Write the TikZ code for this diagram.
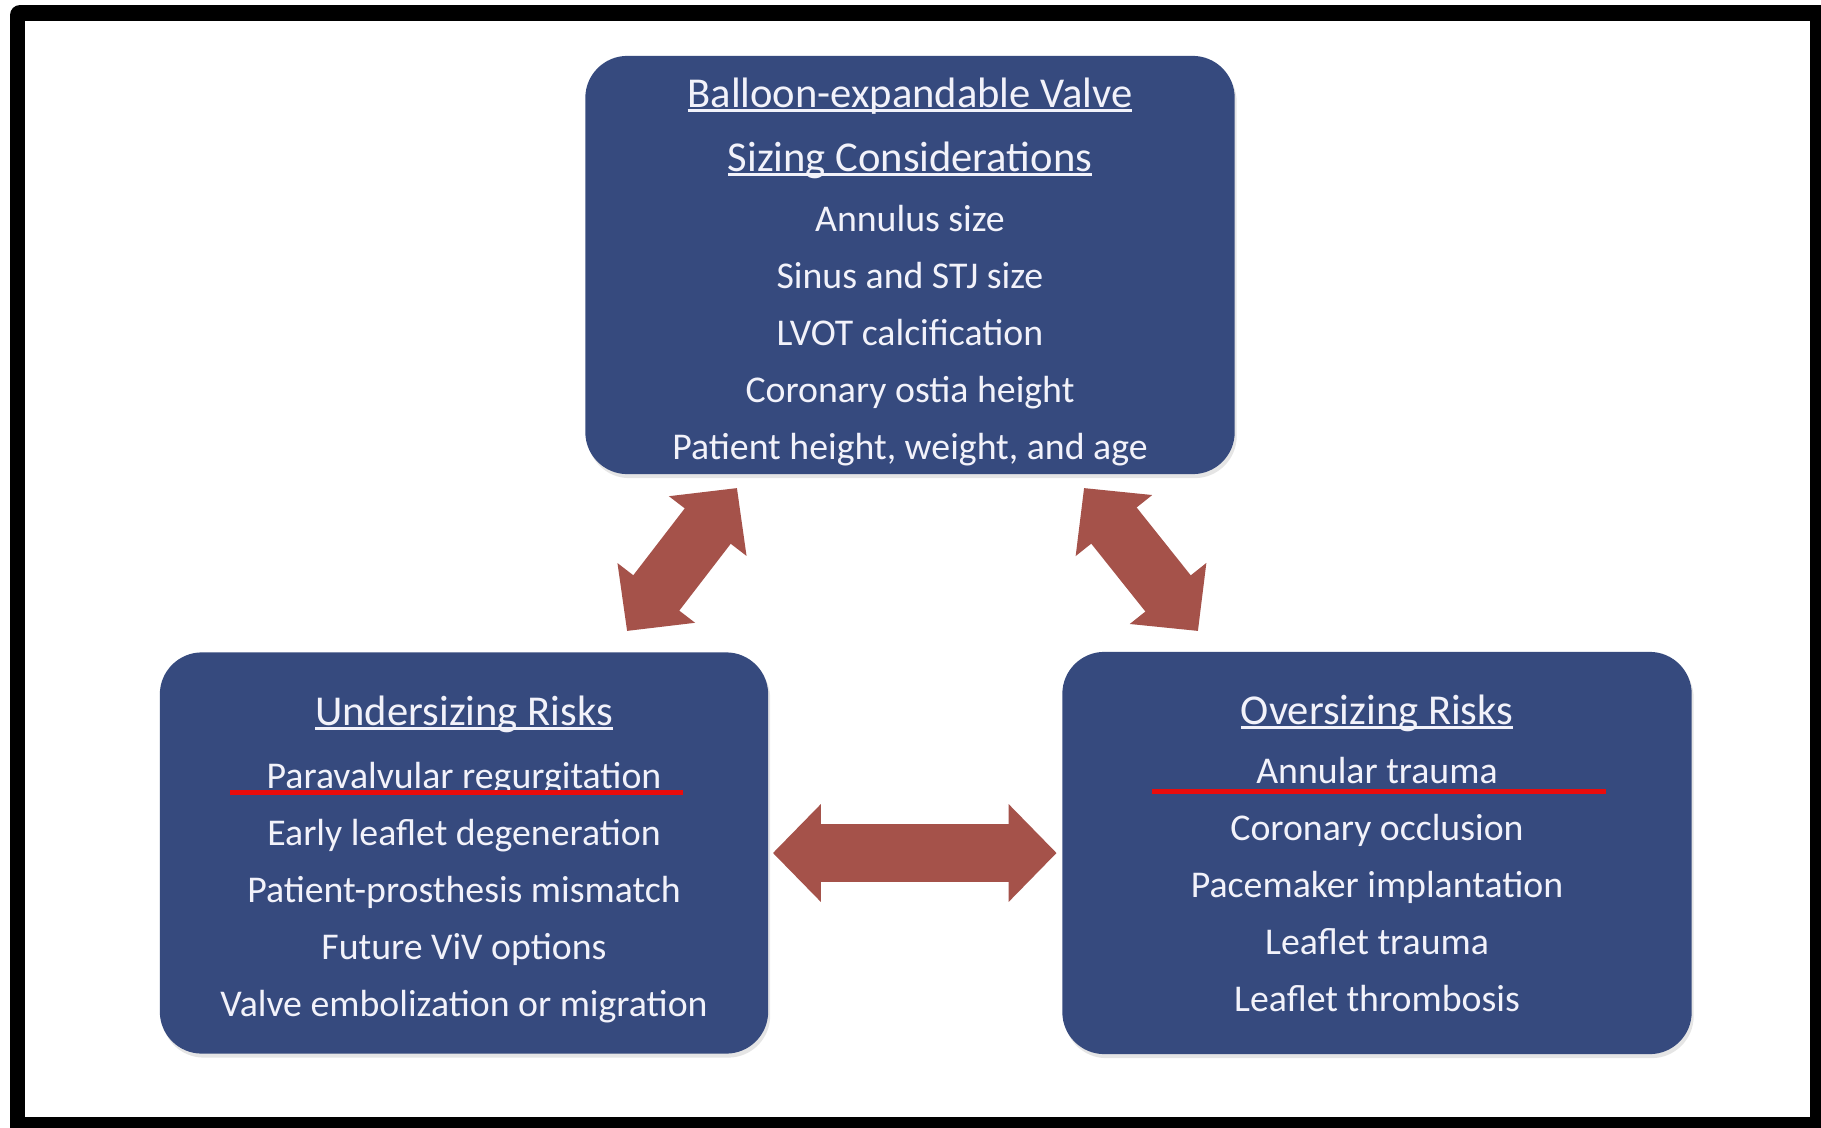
\documentclass[tikz,border=0pt]{standalone}
\usepackage{fontspec}
\setmainfont{Carlito}
\usetikzlibrary{arrows.meta,positioning,calc,shadows}
\definecolor{boxcol}{RGB}{54,74,126}
\definecolor{txtcol}{RGB}{242,242,250}
\definecolor{arrcol}{RGB}{165,82,74}
\definecolor{redcol}{RGB}{232,12,12}
% underlined heading line inside a panel (optional arg: extra top room)
\newcommand\panelhead[2][0pt]{{\fontsize{12.1}{16.2}\selectfont\setbox0\hbox{#2}%
  \rule{0pt}{#1}\rlap{\rule[-0.045cm]{\wd0}{0.7pt}}\box0}}

\begin{document}
\begin{tikzpicture}[
  x=0.01cm, y=-0.01cm,
  panel/.style={fill=boxcol, rounded corners=0.42cm, text=txtcol, align=center,
    inner sep=0pt, font=\fontsize{10.75}{16.2}\selectfont,
    drop shadow={shadow xshift=0.02cm, shadow yshift=-0.04cm, opacity=0.2}},
  twoway/.style={draw=arrcol, line width=0.58cm,
    arrows={Triangle[length=0.48cm,width=0.95cm]-Triangle[length=0.48cm,width=0.95cm]}},
  redline/.style={draw=redcol, line width=0.05cm}]
\useasboundingbox (0,0) rectangle (1821,1127);
% frame
\fill[black, rounded corners=0.1cm] (10,5) rectangle (1860,1160);
\fill[white] (25,21) rectangle (1810,1117);

\node[panel, minimum width=6.49cm, minimum height=4.18cm] (sz) at (910,265) {%
  \panelhead[0.43cm]{Balloon-expandable Valve}\\[0.07cm]
  \panelhead{Sizing Considerations}\\[0.03cm]
  Annulus size\\
  Sinus and STJ size\\
  LVOT calcification\\
  Coronary ostia height\\
  Patient height, weight, and age};
\node[panel, minimum width=6.08cm, minimum height=4.01cm] (us) at (464,853) {%
  \panelhead[0.42cm]{Undersizing Risks}\\[0.06cm]
  Paravalvular regurgitation\\
  Early leaflet degeneration\\
  Patient-prosthesis mismatch\\
  Future ViV options\\
  Valve embolization or migration};
\node[panel, minimum width=6.29cm, minimum height=4.02cm] (os) at (1377,853) {%
  \panelhead{Oversizing Risks}\\[0.02cm]
  Annular trauma\\
  Coronary occlusion\\
  Pacemaker implantation\\
  Leaflet trauma\\
  Leaflet thrombosis};

% double arrows
\coordinate (a1) at (627,631);
\coordinate (a2) at (737,488);
\coordinate (b1) at (1084,488);
\coordinate (b2) at (1198,631);
\draw[twoway] (a1) -- (a2);
\draw[twoway] (b1) -- (b2);
\draw[twoway] ([xshift=0.04cm]us.east) -- ([xshift=-0.05cm]os.west);

% marks under the first risk lines
\draw[redline] (230,792) -- (683,792);
\draw[redline] (1152,791) -- (1606,791);
\end{tikzpicture}
\end{document}
